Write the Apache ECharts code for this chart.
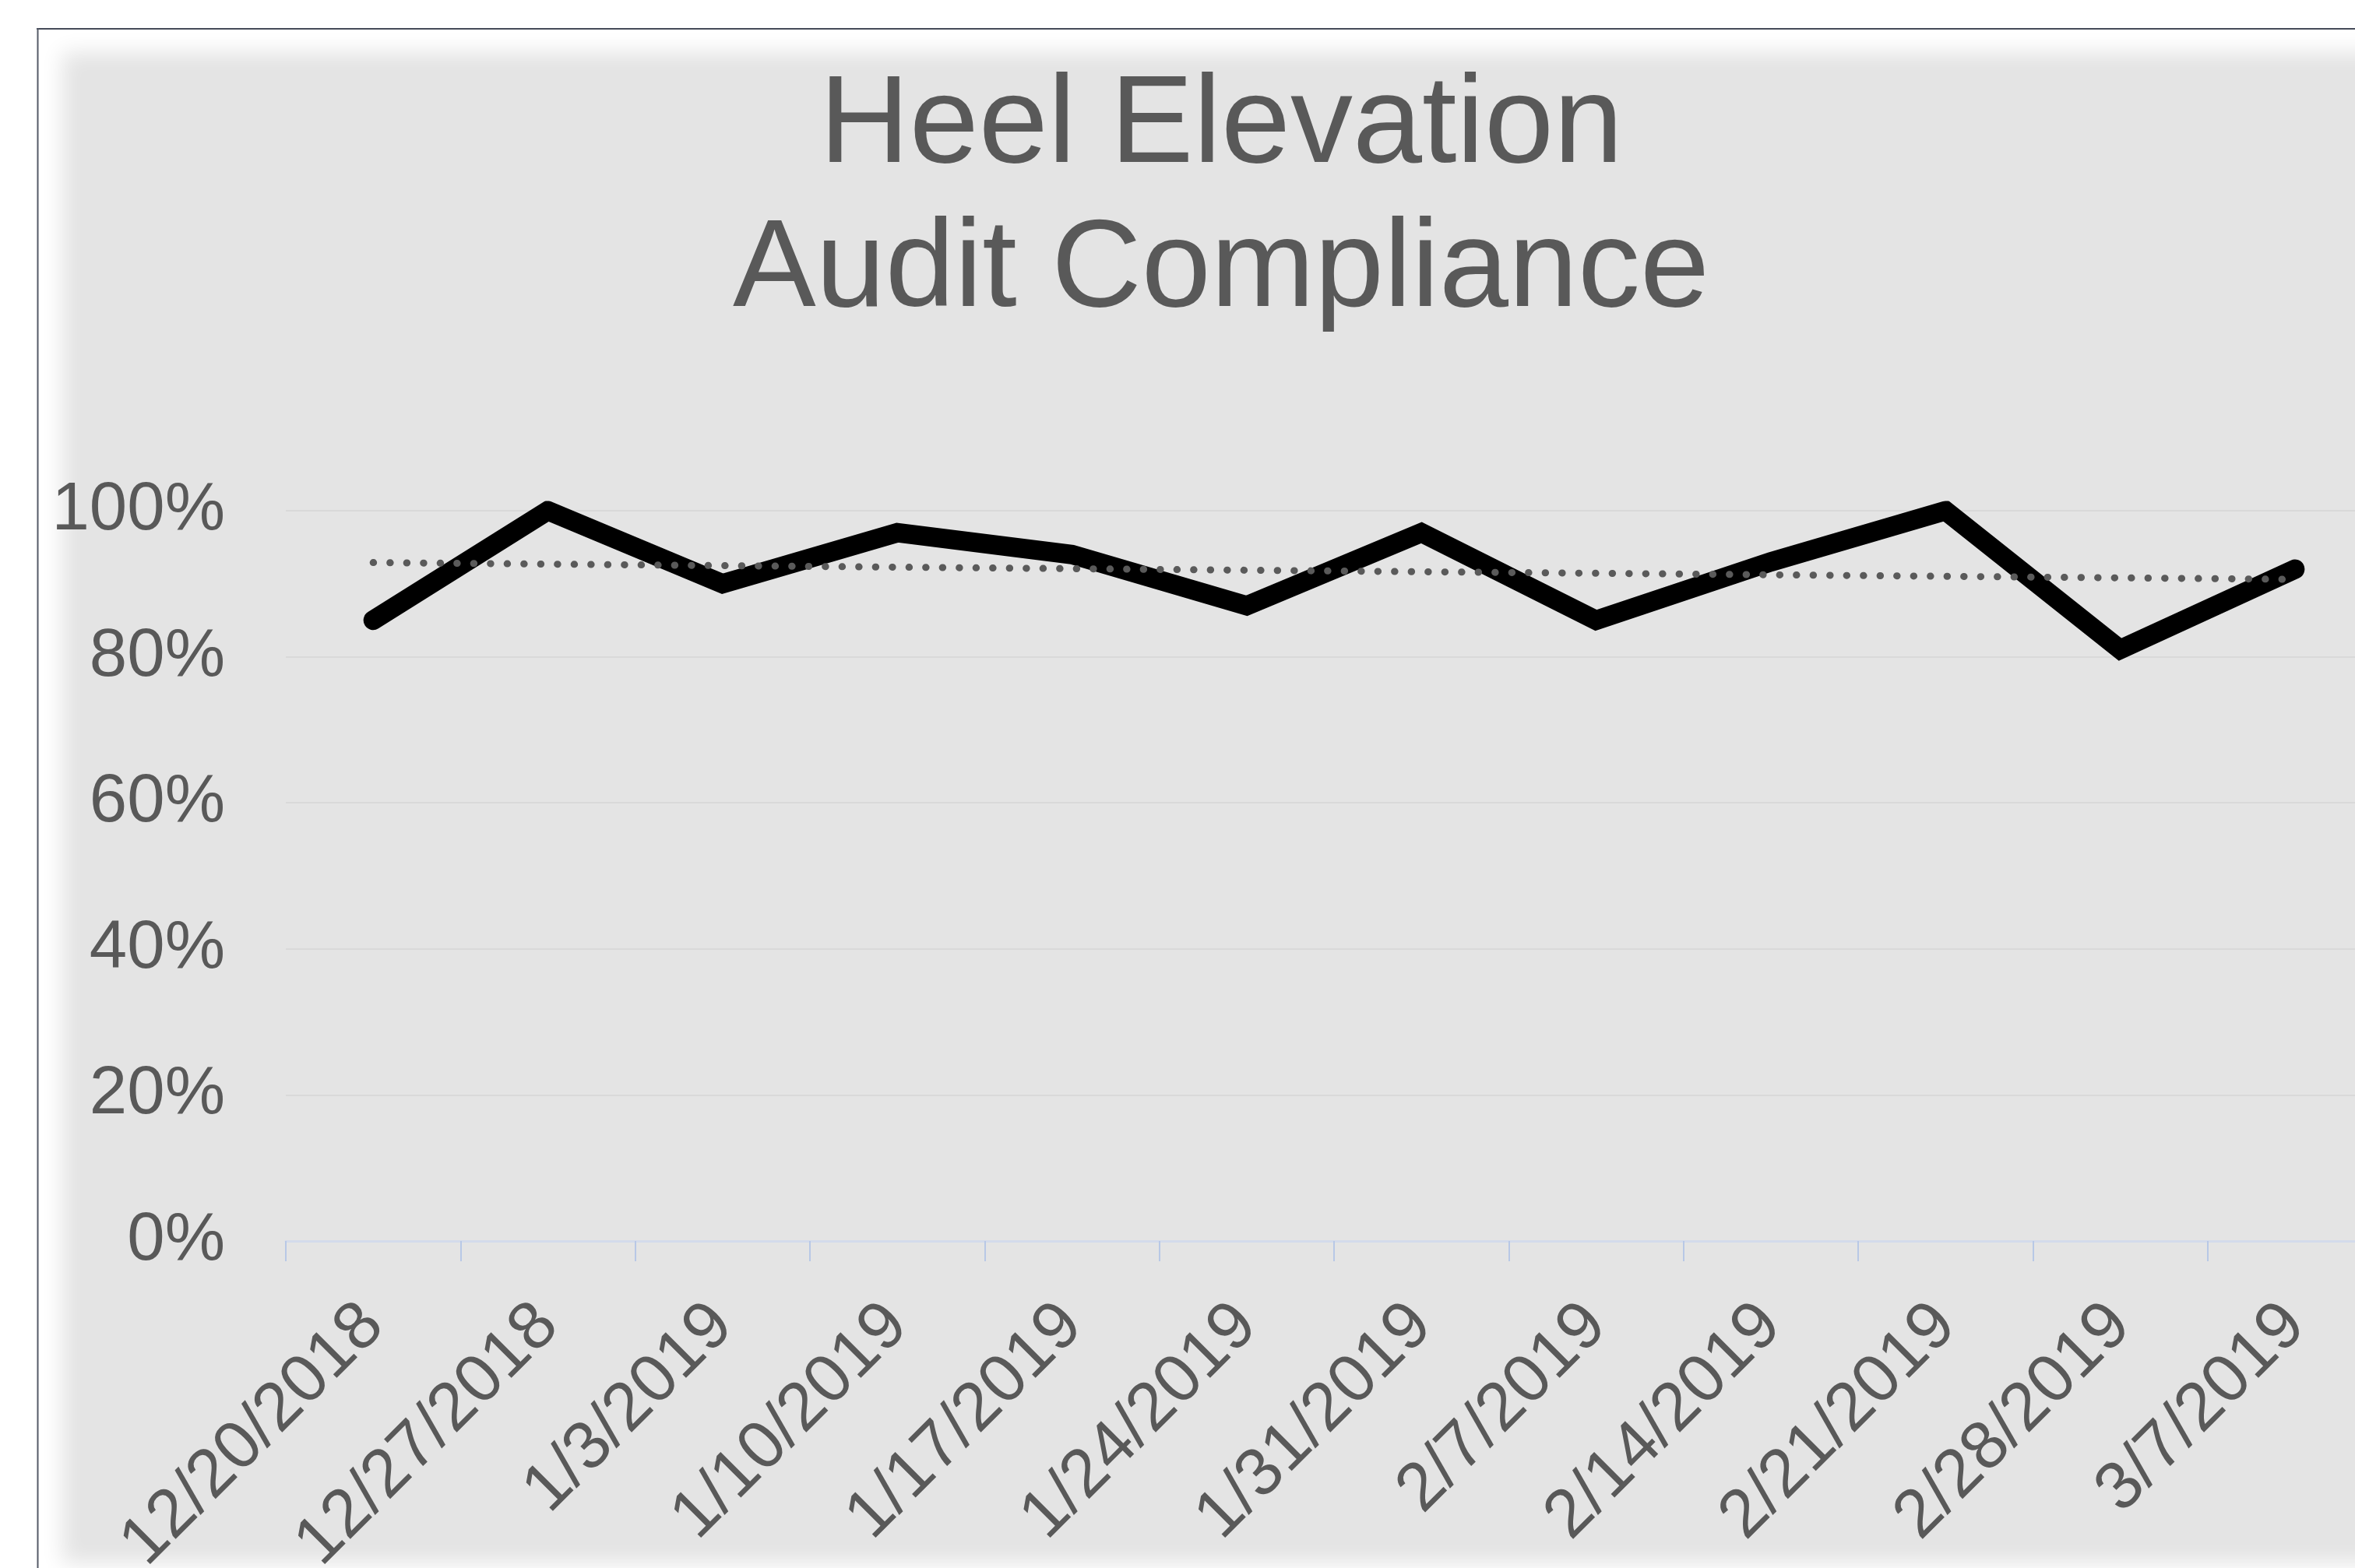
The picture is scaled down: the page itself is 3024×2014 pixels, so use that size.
<!DOCTYPE html>
<html>
<head>
<meta charset="utf-8">
<script src="https://cdn.jsdelivr.net/npm/echarts@6/dist/echarts.min.js"></script>
<style>
  html, body { margin: 0; padding: 0; background: #ffffff; }
  #chart { width: 3024px; height: 2014px; }
</style>
</head>
<body>
<div id="chart"></div>
<script>
// ---- Data ----
const categories = ['12/20/2018', '12/27/2018', '1/3/2019', '1/10/2019', '1/17/2019', '1/24/2019',
                    '1/31/2019', '2/7/2019', '2/14/2019', '2/21/2019', '2/28/2019', '3/7/2019'];
const compliance = [85, 100, 90, 97, 94, 87, 97, 85, 93, 100, 81, 92];   // percent
const trendline = [92.9, 90.6];                                           // linear trend, first & last category
const yMin = 0, yMax = 100, yStep = 20;
const titleLines = ['Heel Elevation', 'Audit Compliance'];

const FONT = "'Liberation Sans', Arial, sans-serif";
const TEXT = '#595959';
const OFF = 5000;

const chart = echarts.init(document.getElementById('chart'), null, { renderer: 'canvas' });
chart.setOption({
  animation: false,
  backgroundColor: '#ffffff',
  graphic: [
    { type: 'rect', z: -20, silent: true,
      shape: { x: 80 + OFF, y: 67, width: 3200, height: 1941 },
      style: { fill: '#e4e4e4', shadowBlur: 26, shadowColor: '#e4e4e4', shadowOffsetX: -OFF } },
    { type: 'line', z: -10, silent: true,
      shape: { x1: 47, y1: 37, x2: 3024, y2: 37 },
      style: { stroke: '#454a58', lineWidth: 2 } },
    { type: 'line', z: -10, silent: true,
      shape: { x1: 48.5, y1: 36, x2: 48.5, y2: 2014 },
      style: { stroke: '#555a67', lineWidth: 2 } }
  ],
  title: {
    text: titleLines.join('\n'),
    left: 1568,
    top: 71,
    padding: 0,
    textAlign: 'center',
    textStyle: { fontFamily: FONT, fontSize: 160, lineHeight: 185, fontWeight: 'normal', color: TEXT }
  },
  grid: { left: 367, top: 656, width: 2692, height: 938, containLabel: false, outerBoundsMode: 'none' },
  xAxis: {
    type: 'category',
    data: categories,
    boundaryGap: true,
    axisLine: { show: true, lineStyle: { color: '#d3dbeb', width: 3 } },
    axisTick: { show: true, interval: 0, length: 26, lineStyle: { color: '#b8c8e6', width: 2 } },
    axisLabel: { interval: 0, rotate: 45, margin: 95, fontFamily: FONT, fontSize: 87, color: TEXT },
    splitLine: { show: false }
  },
  yAxis: {
    type: 'value',
    min: yMin, max: yMax, interval: yStep,
    axisLine: { show: false },
    axisTick: { show: false },
    axisLabel: { formatter: '{value}%', margin: 78, fontFamily: FONT, fontSize: 87, color: TEXT },
    splitLine: { show: true, lineStyle: { color: '#d9d9d9', width: 2 } }
  },
  series: [{
    type: 'line',
    data: compliance,
    symbol: 'none',
    lineStyle: { color: '#000000', width: 25, cap: 'round', join: 'miter' },
    markLine: {
      silent: true,
      symbol: ['none', 'none'],
      label: { show: false },
      lineStyle: { color: '#5a5a5a', width: 9, type: [0.5, 21], cap: 'round' },
      data: [[
        { coord: [0, trendline[0]] },
        { coord: [categories.length - 1, trendline[1]] }
      ]]
    }
  }]
});
</script>
</body>
</html>
